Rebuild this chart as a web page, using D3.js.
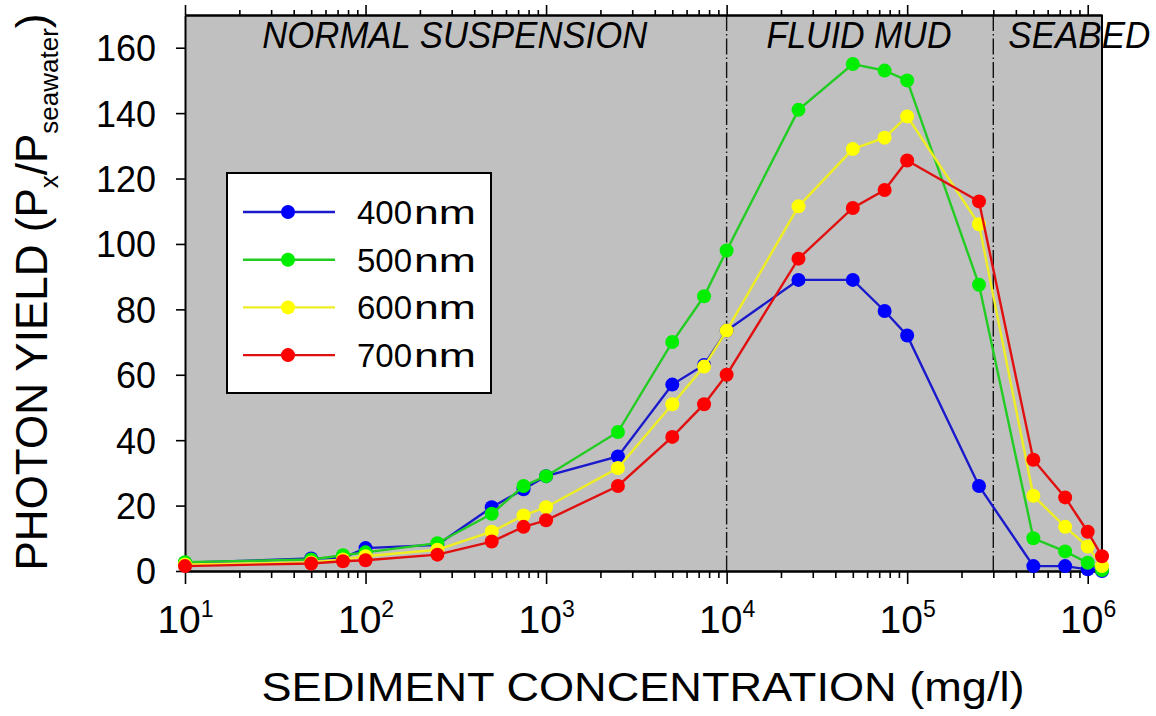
<!DOCTYPE html>
<html>
<head>
<meta charset="utf-8">
<script src="https://cdn.jsdelivr.net/npm/d3@7"></script>
<style>
  body { margin: 0; background: #fff; }
  svg { display: block; font-family: 'Liberation Sans', Arial, sans-serif; }
  .axis path { stroke: #000; stroke-width: 2; }
  .axis line { stroke: #000; stroke-width: 1.6; }
  .axis text { fill: #000; }
</style>
</head>
<body>
<div id="chart"></div>
<script>
// sediment concentration (mg/l)
const concentration = [10, 50, 75, 100, 250, 500, 750, 1000, 2500, 5000, 7500, 10000,
  25000, 50000, 75000, 100000, 250000, 500000, 750000, 1000000, 1200000]

// photon yield (Px / Pseawater) per wavelength
const yield400 = [2.5, 3.8, 4, 7, 8, 19.5, 25, 29, 35, 57, 63, 73.5, 89, 89, 79.5, 72, 26, 1.5, 1.5, 0.5, 0]
const yield500 = [2.7, 3.5, 4.8, 5.7, 8.5, 17.5, 26, 29, 42.5, 70, 84, 98, 141, 155, 153, 150, 87.5, 10, 6, 2.5, 0.3]
const yield600 = [2, 2.6, 3.5, 4.5, 6.5, 12, 17, 19.5, 31.5, 51, 62.5, 73.5, 111.5, 129, 132.5, 139, 106, 23, 13.5, 7.5, 1.5]
const yield700 = [1.5, 2.3, 3, 3.3, 5, 9, 13.5, 15.5, 26, 41, 51, 60, 95.5, 111, 116.5, 125.5, 113, 34, 22.5, 12, 4.5]

const seriesNames = ['400', '500', '600', '700']
const seriesUnit = 'nm'
const seriesColors = ['#0000ff', '#00ee00', '#ffff00', '#ff0000']
const lineColors = ['#1a1acc', '#22cc22', '#eeee22', '#e01010']

const yTicks = [0, 20, 40, 60, 80, 100, 120, 140, 160]
const xDecades = [1, 2, 3, 4, 5, 6]

// zone boundaries and labels
const zoneBounds = [10000, 300000]
const zoneLabels = [
  { text: 'NORMAL SUSPENSION', from: 10, to: 10000 },
  { text: 'FLUID MUD', from: 10000, to: 300000 },
  { text: 'SEABED', from: 300000, to: 1200000 }
]

const width = 1156
const height = 716
const margin = { top: 15, right: 54, bottom: 145, left: 185 }
const innerWidth = width - margin.left - margin.right
const innerHeight = height - margin.top - margin.bottom

const svg = d3.select('#chart').append('svg')
  .attr('width', width)
  .attr('height', height)
  .attr('viewBox', `0 0 ${width} ${height}`)

const x = d3.scaleLog()
  .domain([10, 1200000])
  .range([0, innerWidth])

const y = d3.scaleLinear()
  .domain([0, 170])
  .range([innerHeight, 0])

const g = svg.append('g')
  .attr('transform', `translate(${margin.left} ${margin.top})`)

// BACKGROUND
g.append('rect')
  .attr('width', innerWidth)
  .attr('height', innerHeight)
  .attr('fill', '#c0c0c0')

// ZONE DIVIDERS
g.selectAll('.zone-line')
  .data(zoneBounds)
  .enter().append('line')
  .attr('class', 'zone-line')
  .attr('x1', d => x(d))
  .attr('x2', d => x(d))
  .attr('y1', 0)
  .attr('y2', innerHeight)
  .attr('stroke', '#111')
  .attr('stroke-width', 1.4)
  .attr('stroke-dasharray', '16,3,1.5,3')

// label widths as measured on the original figure
const zoneLabelWidth = [385, 185, 142]
g.selectAll('.zone-label')
  .data(zoneLabels)
  .enter().append('text')
  .attr('class', 'zone-label')
  .attr('x', (d, i) => i < 2 ? (x(d.from) + x(d.to)) / 2 - 1 : x(d.from) + 15)
  .attr('y', 33)
  .attr('text-anchor', (d, i) => i < 2 ? 'middle' : 'start')
  .attr('font-size', 37)
  .attr('font-style', 'italic')
  .attr('textLength', (d, i) => zoneLabelWidth[i])
  .attr('lengthAdjust', 'spacingAndGlyphs')
  .text(d => d.text)

// AXES
const minorTicks = []
xDecades.concat([0]).forEach(k => {
  for (let m = 2; m <= 9; m++) {
    const v = m * Math.pow(10, k)
    if (v >= 10 && v <= 1200000) minorTicks.push(v)
  }
})
const majorTicks = xDecades.map(k => Math.pow(10, k))

g.append('g')
  .attr('class', 'axis')
  .attr('transform', `translate(0 ${innerHeight})`)
  .call(d3.axisBottom(x).tickValues(minorTicks).tickSize(7).tickSizeOuter(0).tickFormat(''))

const xMajor = g.append('g')
  .attr('class', 'axis')
  .attr('transform', `translate(0 ${innerHeight})`)
  .call(d3.axisBottom(x).tickValues(majorTicks).tickSize(13).tickSizeOuter(0).tickFormat(''))

xMajor.selectAll('.tick').append('text')
  .attr('y', 62)
  .attr('text-anchor', 'middle')
  .attr('font-size', 39)
  .attr('fill', '#000')
  .each(function (d) {
    const t = d3.select(this)
    t.append('tspan').text('10')
    t.append('tspan')
      .attr('dy', -16)
      .attr('font-size', 23)
      .text(Math.round(Math.log10(d)))
  })

g.append('g')
  .attr('class', 'axis')
  .call(d3.axisTop(x).tickValues(minorTicks).tickSize(5).tickSizeOuter(0).tickFormat(''))

g.append('g')
  .attr('class', 'axis')
  .call(d3.axisTop(x).tickValues(majorTicks).tickSize(10).tickSizeOuter(0).tickFormat(''))

const yAxis = g.append('g')
  .attr('class', 'axis')
  .call(d3.axisLeft(y).tickValues(yTicks).tickSize(9).tickSizeOuter(0).tickPadding(20))

yAxis.selectAll('text')
  .attr('font-size', 36)
  .attr('dy', '0.36em')

// right border
g.append('line')
  .attr('x1', innerWidth).attr('x2', innerWidth)
  .attr('y1', 0).attr('y2', innerHeight)
  .attr('stroke', '#000')
  .attr('stroke-width', 2)

// SERIES
const allSeries = [yield400, yield500, yield600, yield700].map((values, i) => ({
  name: seriesNames[i],
  color: seriesColors[i],
  lineColor: lineColors[i],
  points: concentration.map((c, j) => ({ x: c, y: values[j] }))
}))

const line = d3.line()
  .x(d => x(d.x))
  .y(d => y(d.y))

const seriesG = g.selectAll('.series')
  .data(allSeries)
  .enter().append('g')
  .attr('class', 'series')

seriesG.append('path')
  .attr('d', d => line(d.points))
  .attr('fill', 'none')
  .attr('stroke', d => d.lineColor)
  .attr('stroke-width', 2.4)

seriesG.selectAll('circle')
  .data(d => d.points.map(p => Object.assign({ color: d.color }, p)))
  .enter().append('circle')
  .attr('cx', d => x(d.x))
  .attr('cy', d => y(d.y))
  .attr('r', 7)
  .attr('fill', d => d.color)

// LEGEND
const legend = svg.append('g')
  .attr('transform', 'translate(227 173)')

legend.append('rect')
  .attr('width', 264)
  .attr('height', 220)
  .attr('fill', '#fff')
  .attr('stroke', '#000')
  .attr('stroke-width', 2)

const legendRows = legend.selectAll('.legend-row')
  .data(allSeries)
  .enter().append('g')
  .attr('class', 'legend-row')
  .attr('transform', (d, i) => `translate(0 ${39 + i * 47.7})`)

legendRows.append('line')
  .attr('x1', 16).attr('x2', 108)
  .attr('stroke', d => d.lineColor)
  .attr('stroke-width', 2.4)

legendRows.append('circle')
  .attr('cx', 61)
  .attr('r', 7)
  .attr('fill', d => d.color)

legendRows.append('text')
  .attr('x', 130)
  .attr('dy', '0.36em')
  .attr('font-size', 33)
  .text(d => d.name)

legendRows.append('text')
  .attr('x', 187)
  .attr('dy', '0.36em')
  .attr('font-size', 33)
  .attr('textLength', 62)
  .attr('lengthAdjust', 'spacingAndGlyphs')
  .text(seriesUnit)

// AXIS TITLES
svg.append('text')
  .attr('x', 643)
  .attr('y', 701)
  .attr('text-anchor', 'middle')
  .attr('font-size', 40)
  .attr('textLength', 763)
  .attr('lengthAdjust', 'spacingAndGlyphs')
  .text('SEDIMENT CONCENTRATION (mg/l)')

const yTitle = svg.append('text')
  .attr('transform', 'translate(47 292) rotate(-90)')
  .attr('text-anchor', 'middle')
  .attr('font-size', 44)

yTitle.append('tspan').text('PHOTON YIELD (P')
yTitle.append('tspan').attr('font-size', 26).attr('dy', 11).text('x')
yTitle.append('tspan').attr('dy', -11).text('/P')
yTitle.append('tspan').attr('font-size', 26).attr('dy', 11).text('seawater')
yTitle.append('tspan').attr('dy', -11).text(')')
</script>
</body>
</html>
